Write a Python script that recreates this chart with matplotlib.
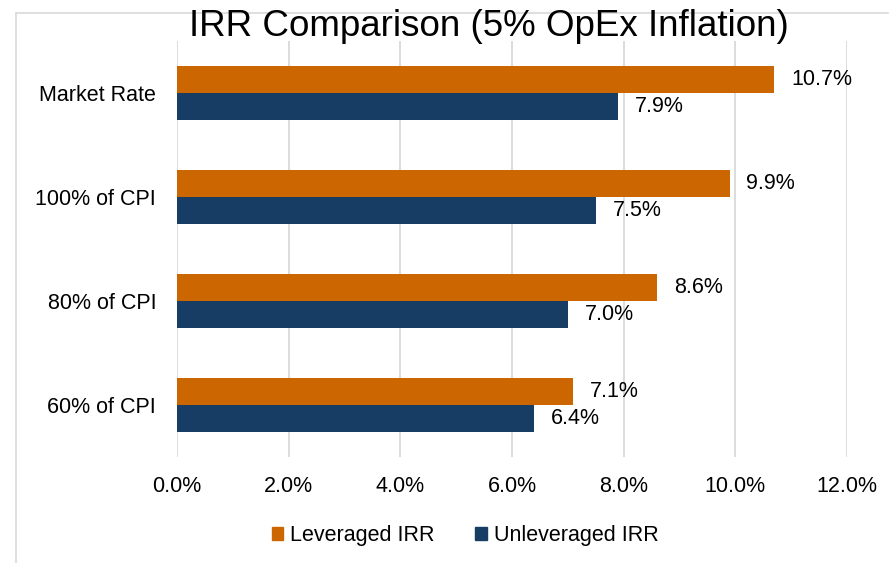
import numpy as np
import matplotlib
matplotlib.use('Agg')
import matplotlib.pyplot as plt
from matplotlib.lines import Line2D
from matplotlib.ticker import FuncFormatter
from matplotlib.patches import Patch

categories = ['60% of CPI', '80% of CPI', '100% of CPI', 'Market Rate']
leveraged = [7.1, 8.6, 9.9, 10.7]
unleveraged = [6.4, 7.0, 7.5, 7.9]
x_ticks = [0, 2, 4, 6, 8, 10, 12]

orange = '#CC6600'
navy = '#183D64'
grid_col = '#D9D9D9'

plt.rcParams['font.family'] = ['Liberation Sans', 'DejaVu Sans']

W, H = 895, 563
fig = plt.figure(figsize=(W / 100, H / 100), dpi=100)
ax = fig.add_axes([177 / W, 1 - 457 / H, (847 - 177) / W, (457 - 41) / H])

y = np.arange(len(categories))
h = 0.26
ax.barh(y + h / 2, leveraged, height=h, color=orange, label='Leveraged IRR', zorder=3)
ax.barh(y - h / 2, unleveraged, height=h, color=navy, label='Unleveraged IRR', zorder=3)

for yi, v in zip(y, leveraged):
    ax.text(v + 0.3, yi + h / 2, f'{v:.1f}%', va='center', ha='left', fontsize=15.5)
for yi, v in zip(y, unleveraged):
    ax.text(v + 0.3, yi - h / 2, f'{v:.1f}%', va='center', ha='left', fontsize=15.5)

ax.set_xlim(0, 12)
ax.set_ylim(-0.5, 3.5)
ax.set_xticks(x_ticks)
ax.xaxis.set_major_formatter(FuncFormatter(lambda v, p: f'{v:.1f}%'))
ax.set_yticks(y)
ax.set_yticklabels(categories)
ax.tick_params(axis='both', length=0, labelsize=15.5)
ax.tick_params(axis='y', pad=15)
ax.tick_params(axis='x', pad=14)
ax.grid(axis='x', color=grid_col, lw=1.3, zorder=0)
for s in ax.spines.values():
    s.set_visible(False)

fig.text(489 / W, 1 - 27 / H, 'IRR Comparison (5% OpEx Inflation)', ha='center', va='center', fontsize=26.5)

handles = [Patch(color=orange, label='Leveraged IRR'), Patch(color=navy, label='Unleveraged IRR')]
fig.legend(handles=handles, loc='center', bbox_to_anchor=(465 / W, 1 - 536 / H), ncol=2, frameon=False,
           fontsize=15.5, handlelength=0.55, handleheight=0.55, handletextpad=0.3, columnspacing=1.9)

# chart frame (only top and left edges visible)
fig.add_artist(Line2D([16 / W, 888 / W], [1 - 13 / H, 1 - 13 / H], transform=fig.transFigure, color=grid_col, lw=1.2))
fig.add_artist(Line2D([16 / W, 16 / W], [1 - 13 / H, 0], transform=fig.transFigure, color=grid_col, lw=1.2))

fig.savefig('out.png', dpi=100)
